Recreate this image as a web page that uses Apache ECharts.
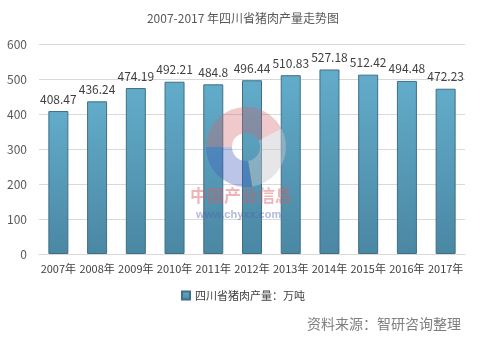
<!DOCTYPE html>
<html><head><meta charset="utf-8">
<script src="https://cdn.jsdelivr.net/npm/echarts@6/dist/echarts.min.js"></script>
<style>html,body{margin:0;padding:0;background:#fff}#c{width:486px;height:344px}</style>
</head><body><div id="c"></div>
<script>
var categories = ['2007年','2008年','2009年','2010年','2011年','2012年','2013年','2014年','2015年','2016年','2017年'];
var values = [408.47,436.24,474.19,492.21,484.8,496.44,510.83,527.18,512.42,494.48,472.23];
var labels = ['408.47','436.24','474.19','492.21','484.8','496.44','510.83','527.18','512.42','494.48','472.23'];
var seriesName = '四川省猪肉产量：万吨';
var font = '"Microsoft YaHei","Noto Sans CJK SC",sans-serif';
var chart = echarts.init(document.getElementById('c'));
chart.setOption({
  animation:false,
  title:{text:'2007-2017 年四川省猪肉产量走势图',left:'center',top:7,textStyle:{fontSize:12,fontWeight:'normal',color:'#595959',fontFamily:font}},
  grid:{left:39,right:21,top:44,bottom:90},
  xAxis:{type:'category',data:categories,axisTick:{show:false},axisLine:{lineStyle:{color:'#d9d9d9'}},
    axisLabel:{color:'#404040',fontSize:11,fontFamily:font,margin:9,interval:0}},
  yAxis:{type:'value',min:0,max:600,interval:100,axisLine:{show:false},axisTick:{show:false},
    splitLine:{lineStyle:{color:'#d9d9d9'}},axisLabel:{color:'#595959',fontSize:12,fontFamily:font,margin:12}},
  legend:{bottom:38,left:'center',itemWidth:8,itemHeight:8,itemGap:4,icon:'rect',
    textStyle:{color:'#404040',fontSize:11,fontFamily:font},data:[seriesName]},
  graphic:[
    {type:'text',right:25,top:317,style:{text:'资料来源：智研咨询整理',fill:'#7f7f7f',fontSize:14,fontFamily:font}},
    {type:'sector',z:100,shape:{cx:246,cy:147,r:40,r0:14,startAngle:Math.PI*1.0,endAngle:Math.PI*1.85},style:{fill:'rgba(210,100,110,0.35)'}},
    {type:'sector',z:100,shape:{cx:246,cy:147,r:40,r0:14,startAngle:Math.PI*0.45,endAngle:Math.PI*1.0},style:{fill:'rgba(60,90,190,0.35)'}},
    {type:'sector',z:100,shape:{cx:246,cy:147,r:40,r0:14,startAngle:Math.PI*-0.15,endAngle:Math.PI*0.45},style:{fill:'rgba(200,200,205,0.45)'}},
    {type:'text',z:100,left:190,top:187,style:{text:'中国产业信息',fill:'rgba(215,90,95,0.45)',fontSize:17,fontWeight:'bold',fontFamily:font}},
    {type:'text',z:100,left:196,top:209,style:{text:'www.chyxx.com',fill:'rgba(80,100,170,0.45)',fontSize:11,fontWeight:'bold',fontFamily:'sans-serif'}}
  ],
  series:[{name:seriesName,type:'bar',data:values,barWidth:20,
    itemStyle:{borderColor:'#3f6f86',borderWidth:1,
      color:new echarts.graphic.LinearGradient(0,0,0,1,[{offset:0,color:'#62acca'},{offset:1,color:'#4a87a3'}])},
    label:{show:true,position:'top',distance:6,color:'#404040',fontSize:12,fontFamily:font,
      formatter:function(p){return labels[p.dataIndex];}}
  }]
});
</script></body></html>
